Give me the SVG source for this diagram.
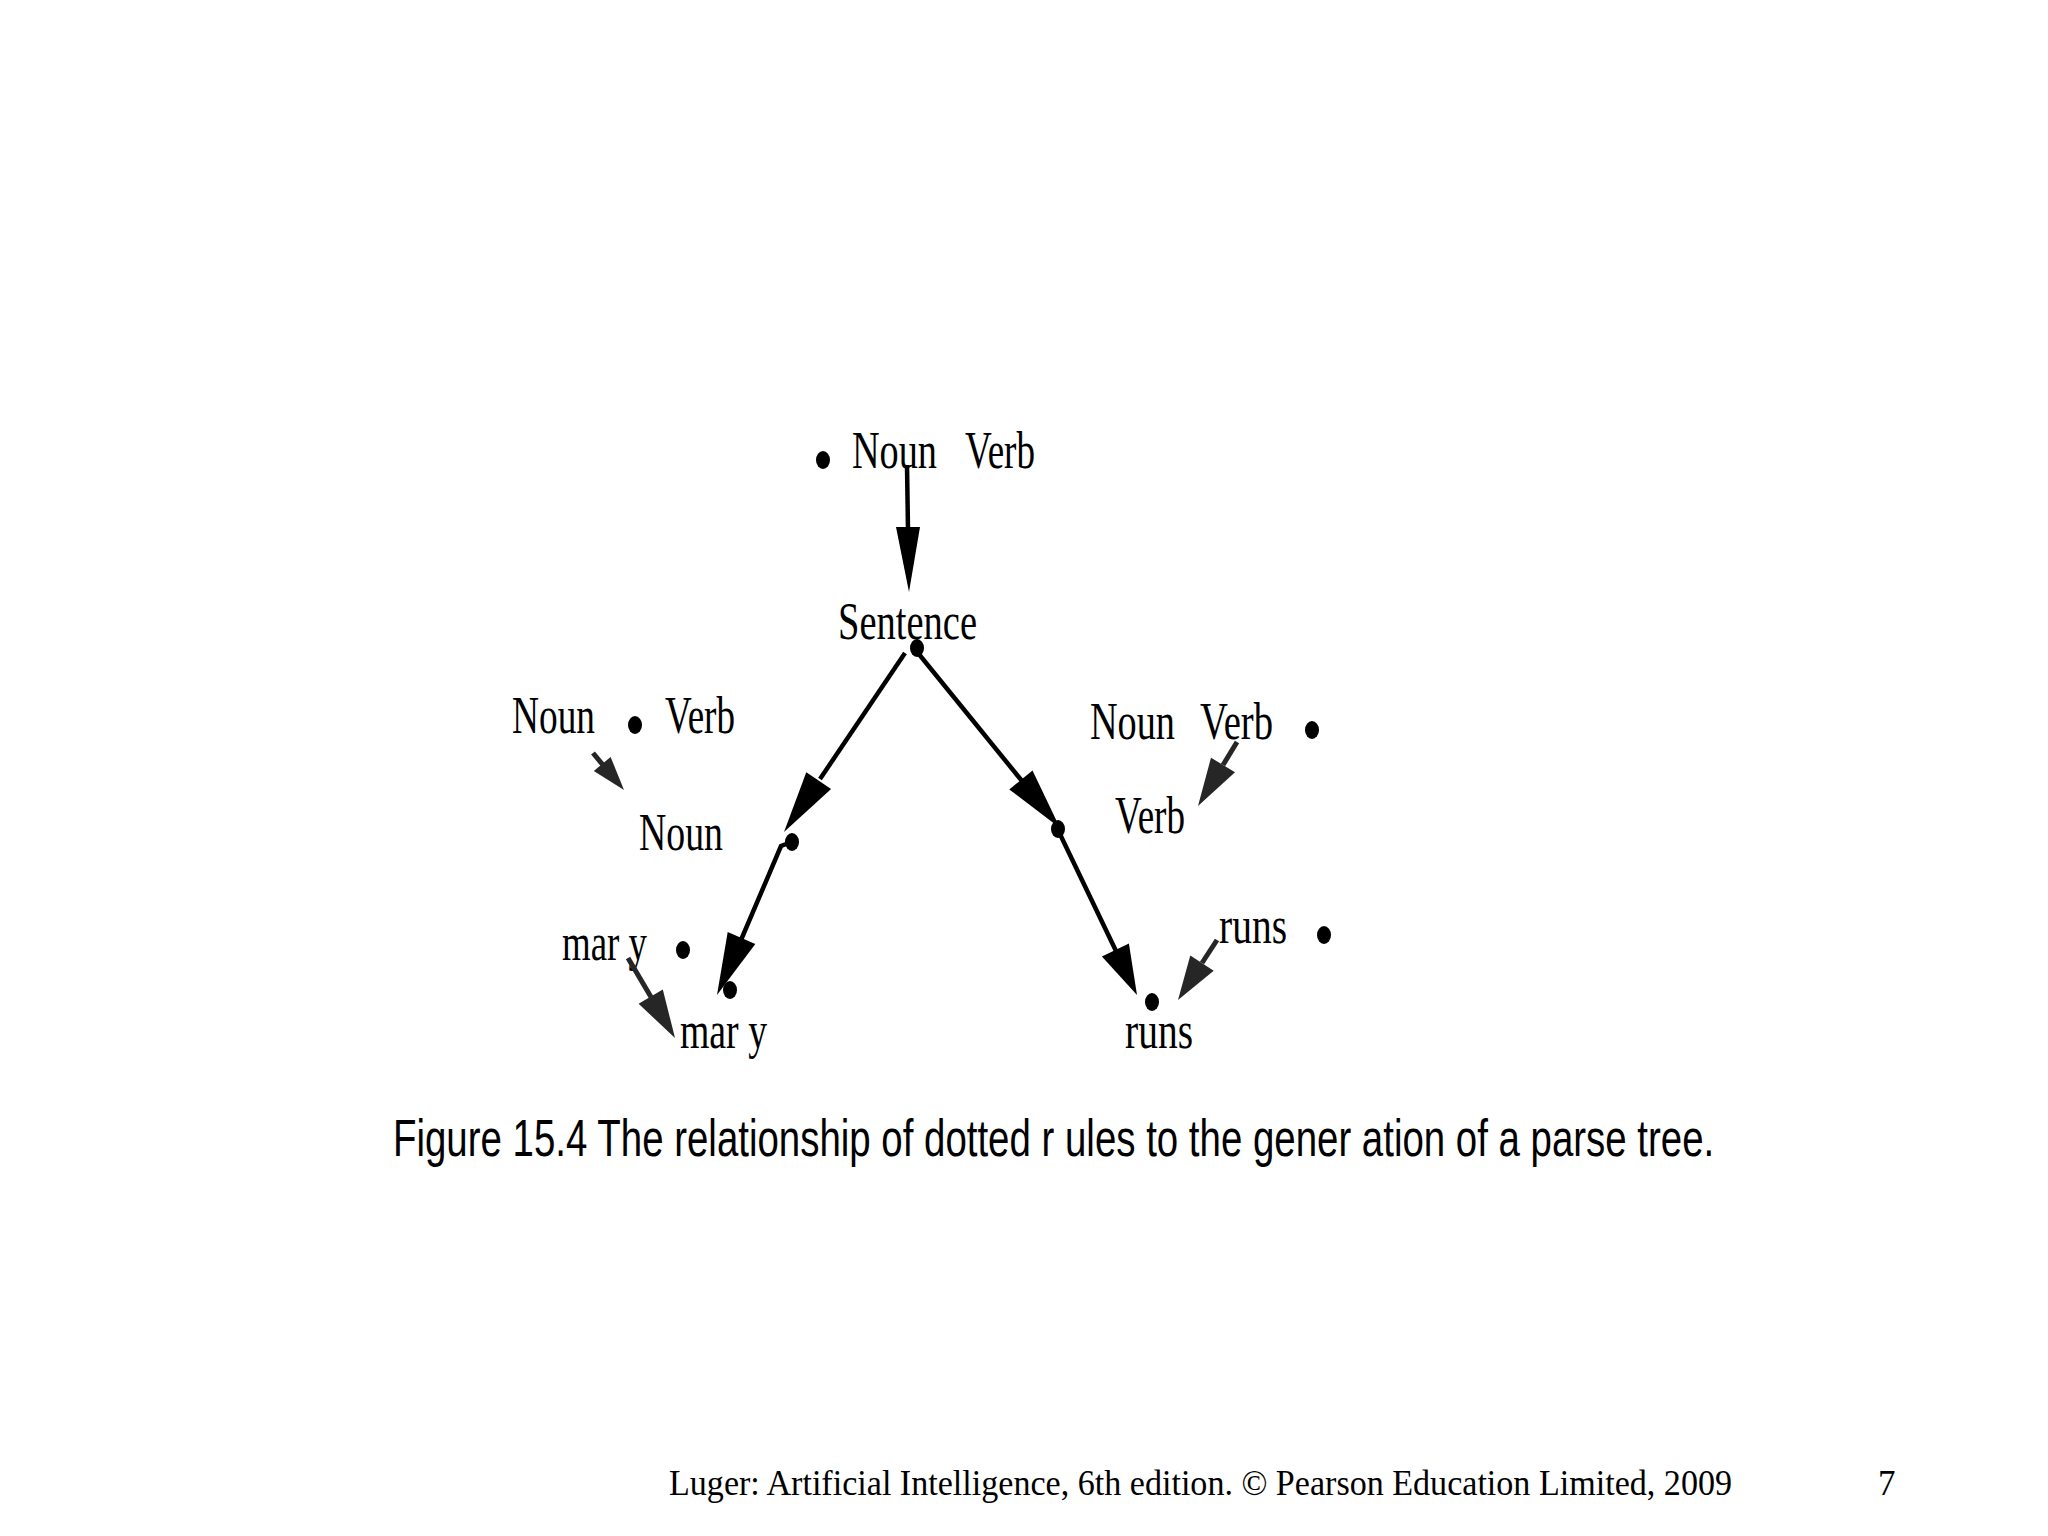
<svg xmlns="http://www.w3.org/2000/svg" width="2048" height="1536" viewBox="0 0 2048 1536">
<style>
.lbl{font-family:"Liberation Serif","Times New Roman",serif;font-size:52px;fill:#000}
.cap{font-family:"Liberation Sans",Arial,sans-serif;font-size:51px;fill:#000}
.foot{font-family:"Liberation Serif","Times New Roman",serif;font-size:35px;fill:#000}
.dot{fill:#000}
.ln{stroke:#000;stroke-width:4.5;fill:none}
.hd{fill:#000}
.ln2{stroke:#262626;stroke-width:5;fill:none}
.hd2{fill:#262626}
</style>
<rect width="2048" height="1536" fill="#fff"/>
<g id="n-top">
<ellipse class="dot" cx="823" cy="460" rx="7" ry="9"/>
<text class="lbl" x="852" y="468" textLength="85" lengthAdjust="spacingAndGlyphs">Noun</text>
<text class="lbl" x="965" y="468" textLength="70" lengthAdjust="spacingAndGlyphs">Verb</text>
</g>
<g id="n-sentence">
<text class="lbl" x="838" y="639" textLength="139" lengthAdjust="spacingAndGlyphs">Sentence</text>
<ellipse class="dot" cx="917" cy="648" rx="7" ry="9"/>
</g>
<g id="n-nounrule">
<text class="lbl" x="512" y="733" textLength="83" lengthAdjust="spacingAndGlyphs">Noun</text>
<ellipse class="dot" cx="635" cy="725" rx="7" ry="9"/>
<text class="lbl" x="665" y="733" textLength="70" lengthAdjust="spacingAndGlyphs">Verb</text>
</g>
<g id="n-noun">
<text class="lbl" x="639" y="850" textLength="84" lengthAdjust="spacingAndGlyphs">Noun</text>
<ellipse class="dot" cx="792" cy="842" rx="7" ry="9"/>
</g>
<g id="n-verbrule">
<text class="lbl" x="1090" y="739" textLength="85" lengthAdjust="spacingAndGlyphs">Noun</text>
<text class="lbl" x="1200" y="739" textLength="73" lengthAdjust="spacingAndGlyphs">Verb</text>
<ellipse class="dot" cx="1312" cy="730" rx="7" ry="9"/>
</g>
<g id="n-verb">
<text class="lbl" x="1115" y="833" textLength="70" lengthAdjust="spacingAndGlyphs">Verb</text>
<ellipse class="dot" cx="1058" cy="829" rx="7" ry="9"/>
</g>
<g id="n-maryrule">
<text class="lbl" x="562" y="960" textLength="85" lengthAdjust="spacingAndGlyphs">mar y</text>
<ellipse class="dot" cx="683" cy="950" rx="7" ry="9"/>
</g>
<g id="n-mary">
<ellipse class="dot" cx="730" cy="990" rx="7" ry="9"/>
<text class="lbl" x="680" y="1048" textLength="87" lengthAdjust="spacingAndGlyphs">mar y</text>
</g>
<g id="n-runsrule">
<text class="lbl" x="1219" y="943" textLength="68" lengthAdjust="spacingAndGlyphs">runs</text>
<ellipse class="dot" cx="1324" cy="935" rx="7" ry="9"/>
</g>
<g id="n-runs">
<ellipse class="dot" cx="1152" cy="1002" rx="7" ry="9"/>
<text class="lbl" x="1125" y="1048" textLength="68" lengthAdjust="spacingAndGlyphs">runs</text>
</g>
<g id="connectors">
<line class="ln" x1="907" y1="465" x2="908" y2="530"/>
<polygon class="hd" points="909,592 920,527 896,527"/>
<line class="ln" x1="905" y1="653" x2="820" y2="779"/>
<polygon class="hd" points="784,832 806.3,772.2 831.1,789"/>
<polyline class="ln" points="789,843 781,846 741,940"/>
<polygon class="hd" points="717,995 727.7,932.1 755.3,943.9"/>
<line class="ln" x1="918" y1="653" x2="1022" y2="781"/>
<polygon class="hd" points="1060,828 1009.3,789.4 1032.5,770.4"/>
<line class="ln" x1="1058" y1="830" x2="1116" y2="951"/>
<polygon class="hd" points="1137,995 1101.9,956.4 1128.9,943.4"/>
<line class="ln2" x1="593" y1="753" x2="603" y2="765"/>
<polygon class="hd2" points="624,790 593.8,771.1 610.6,756.9"/>
<line class="ln2" x1="628" y1="958" x2="651" y2="997"/>
<polygon class="hd2" points="675,1038 638.6,1003.7 662.8,989.5"/>
<line class="ln2" x1="1237" y1="742" x2="1223" y2="765"/>
<polygon class="hd2" points="1198,806 1211,757.7 1235,772.3"/>
<line class="ln2" x1="1217" y1="940" x2="1202" y2="963"/>
<polygon class="hd2" points="1178,1000 1190.3,955.5 1213.7,970.7"/>
</g>
<text class="cap" transform="translate(393,1156) scale(0.68,1)" x="0" y="0" textLength="1943" lengthAdjust="spacingAndGlyphs">Figure 15.4 The relationship of dotted r ules to the gener ation of a parse tree.</text>
<text class="foot" x="669" y="1495" textLength="1063" lengthAdjust="spacingAndGlyphs">Luger: Artificial Intelligence, 6th edition. © Pearson Education Limited, 2009</text>
<text class="foot" x="1878" y="1495">7</text>
</svg>
